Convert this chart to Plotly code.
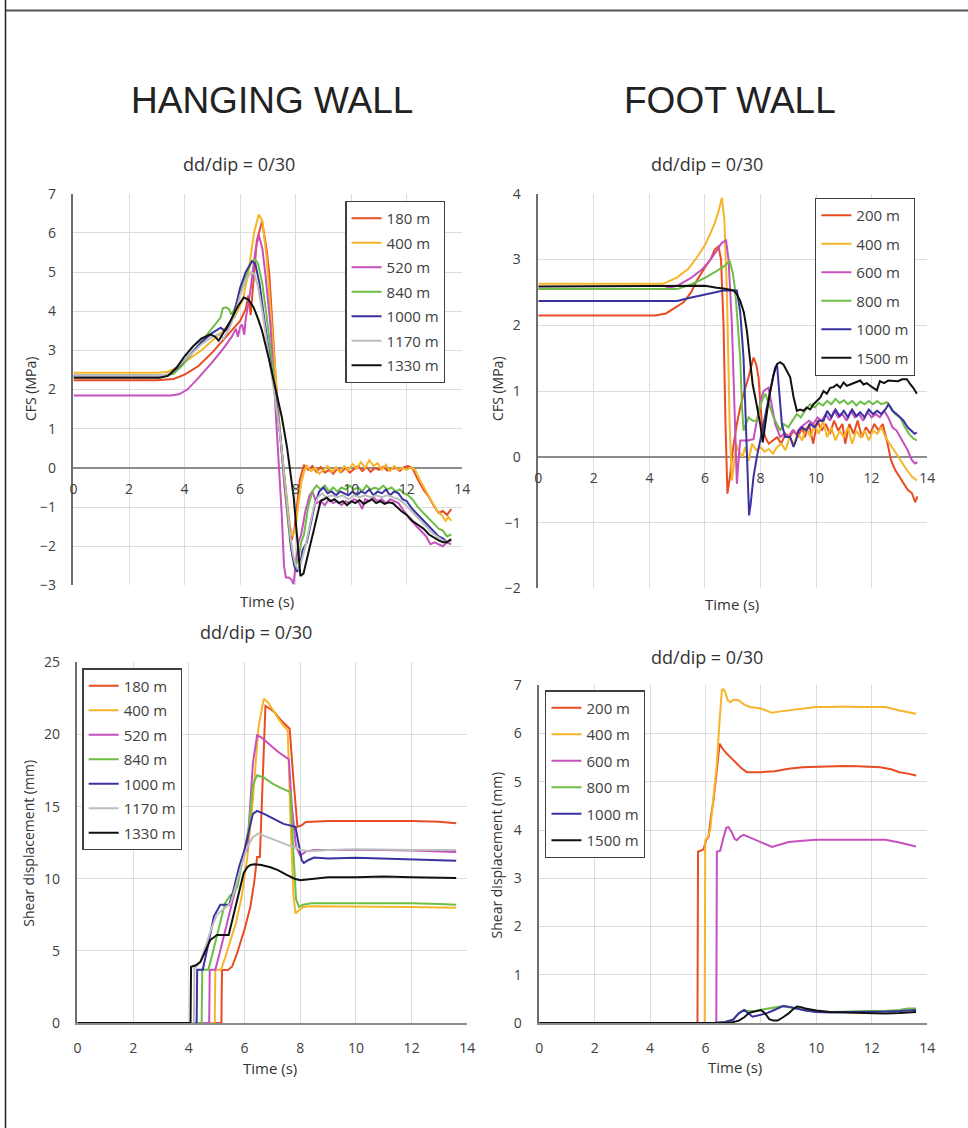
import plotly.graph_objects as go

W, H = 968, 1128

# ---------------- DATA ----------------
hw_depths = ["180 m", "400 m", "520 m", "840 m", "1000 m", "1170 m", "1330 m"]
fw_depths = ["200 m", "400 m", "600 m", "800 m", "1000 m", "1500 m"]
hw_colors = ["#E84C22", "#F6B52B", "#C650BE", "#6DBE45", "#3A32A0", "#BDBDBD", "#111111"]
fw_colors = ["#E84C22", "#F6B52B", "#C650BE", "#6DBE45", "#3A32A0", "#111111"]

x_ticks = [0, 2, 4, 6, 8, 10, 12, 14]

# Hanging wall CFS (MPa)
hw_cfs_t_180 = [0, 3.0, 3.6, 4.0, 4.5, 5.0, 5.5, 6.0, 6.2, 6.3, 6.38, 6.45, 6.6, 6.79, 6.95, 7.05, 7.15, 7.3, 7.45, 7.6, 7.75, 7.85, 7.95, 8.05, 8.15, 8.3, 8.45, 8.6, 8.75, 8.9, 9.05, 9.2, 9.35, 9.5, 9.65, 9.8, 9.95, 10.1, 10.25, 10.4, 10.55, 10.7, 10.85, 11.0, 11.15, 11.3, 11.45, 11.6, 11.75, 11.9, 12.05, 12.2, 12.4, 12.6, 12.8, 13.0, 13.15, 13.3, 13.45, 13.6]
hw_cfs_v_180 = [2.24, 2.24, 2.27, 2.38, 2.6, 2.95, 3.35, 3.75, 4.05, 4.4, 3.9, 4.5, 5.8, 6.3, 5.6, 4.94, 3.7, 2.1, 0.8, -0.5, -1.5, -1.85, -1.6, -1.0, -0.3, 0.08, -0.05, 0.05, -0.1, 0.02, -0.12, -0.05, -0.15, -0.02, -0.1, 0.0, -0.12, -0.03, 0.05, -0.08, 0.02, -0.1, 0.0, -0.05, 0.03, -0.07, -0.02, 0.0, -0.08, 0.02, 0.05, 0.0, -0.3, -0.55, -0.75, -1.0, -1.15, -1.1, -1.2, -1.05]

hw_cfs_t_400 = [0, 3.0, 3.4, 3.8, 4.2, 4.6, 5.0, 5.4, 5.8, 6.1, 6.3, 6.5, 6.67, 6.8, 6.95, 7.1, 7.25, 7.4, 7.55, 7.7, 7.8, 7.9, 8.0, 8.1, 8.2, 8.3, 8.4, 8.55, 8.7, 8.85, 9.0, 9.15, 9.3, 9.45, 9.6, 9.75, 9.9, 10.05, 10.2, 10.35, 10.5, 10.65, 10.8, 10.95, 11.1, 11.25, 11.4, 11.55, 11.7, 11.85, 12.0, 12.15, 12.3, 12.5, 12.7, 12.9, 13.1, 13.25, 13.4, 13.5, 13.6]
hw_cfs_v_400 = [2.43, 2.43, 2.45, 2.6, 2.8, 3.0, 3.25, 3.5, 3.85, 4.3, 5.0, 6.0, 6.47, 6.3, 5.4, 4.0, 2.5, 1.2, 0.1, -0.9, -1.5, -1.75, -1.5, -0.9, -0.4, -0.1, 0.05, -0.08, 0.0, -0.15, -0.05, 0.05, -0.1, 0.02, -0.12, 0.05, -0.05, 0.1, -0.02, 0.15, 0.0, 0.2, 0.05, 0.12, -0.05, 0.08, -0.08, 0.05, -0.05, 0.0, -0.05, 0.02, -0.05, -0.35, -0.6, -0.85, -1.1, -1.2, -1.35, -1.25, -1.35]

hw_cfs_t_520 = [0, 3.5, 3.8, 4.1, 4.5, 5.0, 5.4, 5.7, 5.85, 5.92, 6.0, 6.07, 6.15, 6.2, 6.37, 6.55, 6.67, 6.8, 6.91, 7.09, 7.2, 7.3, 7.4, 7.5, 7.58, 7.65, 7.75, 7.85, 7.92, 8.0, 8.1, 8.2, 8.35, 8.5, 8.6, 8.75, 8.9, 9.05, 9.2, 9.35, 9.5, 9.65, 9.8, 9.95, 10.1, 10.25, 10.4, 10.5, 10.65, 10.8, 10.95, 11.1, 11.25, 11.4, 11.55, 11.7, 11.9, 12.1, 12.3, 12.5, 12.7, 12.85, 13.0, 13.15, 13.3, 13.45, 13.6]
hw_cfs_v_520 = [1.85, 1.85, 1.88, 2.0, 2.3, 2.7, 3.05, 3.35, 3.55, 3.35, 3.6, 3.66, 3.4, 3.8, 4.52, 5.54, 5.95, 5.6, 4.94, 3.66, 2.4, 1.3, 0.2, -1.2, -2.5, -2.8, -2.8, -2.85, -2.97, -2.5, -1.9, -1.7, -1.1, -0.7, -0.6, -0.9, -0.85, -0.95, -0.8, -0.9, -0.85, -0.95, -0.85, -0.9, -0.8, -0.85, -1.05, -0.8, -0.85, -0.75, -0.85, -0.8, -0.9, -0.8, -0.85, -0.9, -1.1, -1.3, -1.45, -1.6, -1.75, -1.95, -1.9, -1.95, -2.0, -1.9, -1.95]

hw_cfs_t_840 = [0, 3.3, 3.6, 3.9, 4.3, 4.7, 5.0, 5.29, 5.38, 5.5, 5.6, 5.68, 5.8, 6.0, 6.2, 6.4, 6.55, 6.65, 6.8, 6.95, 7.1, 7.25, 7.4, 7.55, 7.7, 7.8, 7.9, 8.0, 8.1, 8.2, 8.3, 8.45, 8.6, 8.75, 8.9, 9.05, 9.2, 9.35, 9.5, 9.65, 9.8, 9.95, 10.1, 10.25, 10.4, 10.55, 10.7, 10.85, 11.0, 11.15, 11.3, 11.45, 11.6, 11.75, 11.9, 12.05, 12.2, 12.4, 12.6, 12.8, 13.0, 13.15, 13.3, 13.45, 13.6]
hw_cfs_v_840 = [2.35, 2.35, 2.4, 2.6, 2.95, 3.3, 3.55, 3.83, 4.08, 4.1, 4.05, 3.92, 4.05, 4.5, 4.9, 5.25, 5.32, 5.2, 4.7, 3.9, 3.0, 2.2, 1.2, 0.0, -1.2, -1.9, -2.3, -2.5, -2.3, -1.9, -1.7, -1.0, -0.6, -0.45, -0.55, -0.45, -0.6, -0.5, -0.6, -0.5, -0.55, -0.45, -0.55, -0.5, -0.6, -0.45, -0.55, -0.5, -0.55, -0.45, -0.55, -0.5, -0.6, -0.55, -0.65, -0.7, -0.8, -1.0, -1.15, -1.3, -1.45, -1.55, -1.6, -1.75, -1.7]

hw_cfs_t_1000 = [0, 3.2, 3.5, 3.8, 4.2, 4.6, 5.0, 5.3, 5.45, 5.6, 5.8, 6.0, 6.2, 6.43, 6.55, 6.7, 6.85, 7.0, 7.15, 7.3, 7.45, 7.6, 7.75, 7.85, 7.95, 8.05, 8.15, 8.25, 8.4, 8.55, 8.7, 8.85, 9.0, 9.15, 9.3, 9.45, 9.6, 9.75, 9.9, 10.05, 10.2, 10.35, 10.5, 10.65, 10.8, 10.95, 11.1, 11.25, 11.4, 11.55, 11.7, 11.85, 12.0, 12.2, 12.4, 12.6, 12.8, 13.0, 13.15, 13.3, 13.45, 13.6]
hw_cfs_v_1000 = [2.35, 2.35, 2.4, 2.6, 2.9, 3.2, 3.45, 3.58, 3.5, 3.6, 4.0, 4.6, 5.0, 5.28, 5.2, 4.7, 3.9, 3.1, 2.4, 1.7, 0.8, -0.3, -1.4, -2.1, -2.5, -2.65, -2.5, -2.1, -1.9, -1.4, -0.9, -0.6, -0.5, -0.65, -0.6, -0.7, -0.6, -0.65, -0.7, -0.6, -0.7, -0.6, -0.65, -0.55, -0.7, -0.6, -0.65, -0.55, -0.7, -0.6, -0.65, -0.8, -0.85, -1.05, -1.2, -1.35, -1.5, -1.65, -1.75, -1.8, -1.9, -1.85]

hw_cfs_t_1170 = [0, 3.2, 3.5, 3.8, 4.2, 4.6, 5.0, 5.25, 5.4, 5.6, 5.8, 6.0, 6.2, 6.4, 6.52, 6.65, 6.8, 6.95, 7.1, 7.25, 7.4, 7.55, 7.7, 7.8, 7.9, 8.0, 8.1, 8.2, 8.35, 8.5, 8.65, 8.8, 8.95, 9.1, 9.3, 9.5, 9.7, 9.9, 10.1, 10.3, 10.5, 10.7, 10.9, 11.1, 11.3, 11.5, 11.7, 11.9, 12.1, 12.3, 12.5, 12.7, 12.9, 13.1, 13.3, 13.45, 13.6]
hw_cfs_v_1170 = [2.35, 2.35, 2.42, 2.62, 2.9, 3.15, 3.35, 3.42, 3.3, 3.55, 3.9, 4.4, 4.8, 5.0, 4.95, 4.6, 4.0, 3.3, 2.6, 1.9, 1.1, 0.1, -1.0, -1.7, -2.2, -2.5, -2.6, -2.4, -2.0, -1.5, -1.0, -0.75, -0.65, -0.75, -0.7, -0.75, -0.7, -0.8, -0.7, -0.75, -0.7, -0.75, -0.7, -0.75, -0.7, -0.75, -0.8, -0.9, -1.05, -1.2, -1.35, -1.5, -1.65, -1.75, -1.85, -1.9, -1.85]

hw_cfs_t_1330 = [0, 3.1, 3.4, 3.7, 4.0, 4.3, 4.6, 4.93, 5.1, 5.23, 5.4, 5.65, 5.9, 6.13, 6.3, 6.49, 6.65, 6.79, 7.03, 7.33, 7.5, 7.69, 7.8, 7.93, 8.02, 8.1, 8.17, 8.28, 8.4, 8.53, 8.65, 8.78, 8.9, 9.02, 9.12, 9.25, 9.4, 9.55, 9.7, 9.85, 10.0, 10.15, 10.3, 10.45, 10.6, 10.75, 10.9, 11.05, 11.2, 11.35, 11.5, 11.65, 11.8, 12.0, 12.2, 12.4, 12.6, 12.8, 12.97, 13.15, 13.3, 13.44, 13.6]
hw_cfs_v_1330 = [2.3, 2.3, 2.35, 2.55, 2.85, 3.1, 3.3, 3.41, 3.35, 3.25, 3.45, 3.75, 4.1, 4.35, 4.3, 4.09, 3.8, 3.5, 2.8, 1.88, 1.3, 0.52, -0.1, -0.76, -1.5, -2.3, -2.76, -2.7, -2.3, -1.95, -1.6, -1.2, -0.84, -0.8, -0.76, -0.85, -0.8, -0.9, -0.85, -0.95, -0.85, -0.9, -0.82, -0.92, -0.85, -0.8, -0.9, -0.85, -0.92, -0.88, -0.9, -1.0, -1.1, -1.2, -1.35, -1.45, -1.55, -1.7, -1.78, -1.85, -1.9, -1.9, -1.82]

# Foot wall CFS (MPa)
fw_cfs_t_200 = [0, 4.2, 4.6, 5.0, 5.23, 5.5, 5.71, 6.0, 6.2, 6.35, 6.49, 6.58, 6.67, 6.74, 6.81, 6.9, 7.0, 7.15, 7.27, 7.42, 7.57, 7.75, 7.85, 7.93, 8.05, 8.17, 8.3, 8.45, 8.6, 8.75, 8.9, 9.05, 9.2, 9.35, 9.5, 9.6, 9.75, 9.9, 10.05, 10.2, 10.35, 10.5, 10.65, 10.8, 10.95, 11.05, 11.2, 11.35, 11.5, 11.65, 11.8, 11.95, 12.1, 12.25, 12.4, 12.55, 12.7, 12.85, 13.0, 13.15, 13.3, 13.45, 13.57, 13.65]
fw_cfs_v_200 = [2.15, 2.15, 2.18, 2.28, 2.35, 2.5, 2.68, 2.88, 3.0, 3.15, 3.2, 3.0, 2.0, 0.5, -0.56, -0.3, 0.1, 0.5, 0.75, 1.0, 1.21, 1.51, 1.4, 1.21, 0.5, 0.3, 0.2, 0.25, 0.3, 0.2, 0.35, 0.3, 0.4, 0.3, 0.45, 0.3, 0.5, 0.2, 0.55, 0.4, 0.5, 0.35, 0.55, 0.4, 0.5, 0.2, 0.5, 0.35, 0.55, 0.3, 0.45, 0.35, 0.5, 0.4, 0.5, 0.25, -0.05, -0.2, -0.3, -0.4, -0.5, -0.55, -0.69, -0.6]

fw_cfs_t_400 = [0, 4.5, 5.0, 5.4, 5.71, 6.0, 6.19, 6.35, 6.5, 6.61, 6.7, 6.79, 6.89, 6.97, 7.05, 7.12, 7.2, 7.35, 7.45, 7.57, 7.7, 7.85, 8.0, 8.15, 8.3, 8.45, 8.6, 8.75, 8.9, 9.05, 9.2, 9.35, 9.5, 9.65, 9.8, 9.95, 10.1, 10.25, 10.4, 10.55, 10.7, 10.85, 11.0, 11.15, 11.3, 11.45, 11.6, 11.75, 11.9, 12.05, 12.2, 12.35, 12.5, 12.65, 12.79, 12.95, 13.1, 13.27, 13.45, 13.63]
fw_cfs_v_400 = [2.63, 2.63, 2.73, 2.86, 3.03, 3.22, 3.39, 3.55, 3.75, 3.94, 3.6, 2.53, 0.5, -0.36, -0.1, 0.2, 0.1, 0.0, 0.15, -0.06, 0.2, 0.1, 0.15, 0.08, 0.12, 0.05, 0.15, 0.2, 0.1, 0.3, 0.2, 0.35, 0.25, 0.45, 0.3, 0.5, 0.35, 0.55, 0.3, 0.45, 0.25, 0.4, 0.3, 0.45, 0.2, 0.4, 0.3, 0.4, 0.25, 0.4, 0.35, 0.45, 0.3, 0.2, 0.1, 0.0, -0.1, -0.2, -0.3, -0.36]

fw_cfs_t_600 = [0, 4.5, 5.0, 5.5, 5.9, 6.2, 6.45, 6.6, 6.76, 6.85, 6.97, 7.05, 7.15, 7.22, 7.27, 7.4, 7.55, 7.75, 7.9, 8.0, 8.11, 8.29, 8.4, 8.53, 8.71, 8.85, 9.0, 9.15, 9.3, 9.45, 9.6, 9.75, 9.9, 10.05, 10.2, 10.35, 10.5, 10.65, 10.8, 10.95, 11.1, 11.25, 11.4, 11.55, 11.7, 11.85, 12.0, 12.15, 12.3, 12.45, 12.6, 12.75, 12.9, 13.03, 13.15, 13.3, 13.45, 13.57, 13.65]
fw_cfs_v_600 = [2.55, 2.55, 2.6, 2.72, 2.85, 3.0, 3.15, 3.25, 3.29, 3.0, 2.02, 0.8, -0.41, 0.0, 0.25, 0.25, 0.25, 0.27, 0.6, 0.85, 1.0, 1.05, 0.8, 0.5, 0.3, 0.35, 0.3, 0.4, 0.35, 0.45, 0.5, 0.55, 0.5, 0.6, 0.55, 0.65, 0.55, 0.7, 0.6, 0.65, 0.55, 0.7, 0.6, 0.65, 0.55, 0.68, 0.6, 0.65, 0.6, 0.7, 0.6, 0.45, 0.4, 0.3, 0.2, 0.1, -0.05, -0.1, -0.08]

fw_cfs_t_800 = [0, 5.0, 5.5, 6.0, 6.4, 6.7, 6.89, 7.0, 7.09, 7.18, 7.27, 7.33, 7.39, 7.48, 7.57, 7.72, 7.87, 8.0, 8.17, 8.35, 8.47, 8.59, 8.71, 8.83, 9.0, 9.15, 9.31, 9.45, 9.6, 9.79, 9.95, 10.1, 10.25, 10.4, 10.55, 10.7, 10.85, 11.0, 11.15, 11.3, 11.45, 11.6, 11.75, 11.9, 12.05, 12.2, 12.35, 12.55, 12.7, 12.85, 13.03, 13.2, 13.35, 13.5, 13.63]
fw_cfs_v_800 = [2.55, 2.55, 2.62, 2.72, 2.82, 2.9, 2.98, 2.8, 2.53, 2.0, 1.51, 0.8, 0.4, 0.5, 0.6, 0.55, 0.55, 0.8, 0.96, 0.75, 0.6, 0.5, 0.4, 0.5, 0.45, 0.55, 0.65, 0.6, 0.7, 0.8, 0.75, 0.82, 0.78, 0.85, 0.8, 0.88, 0.82, 0.86, 0.8, 0.85, 0.78, 0.84, 0.8, 0.85, 0.8, 0.85, 0.8, 0.83, 0.75, 0.65, 0.6, 0.45, 0.35, 0.28, 0.25]

fw_cfs_t_1000 = [0, 5.0, 5.47, 6.0, 6.67, 7.15, 7.27, 7.39, 7.45, 7.51, 7.55, 7.59, 7.65, 7.75, 7.87, 8.05, 8.23, 8.4, 8.53, 8.6, 8.67, 8.77, 8.89, 9.07, 9.19, 9.28, 9.37, 9.5, 9.65, 9.79, 9.95, 10.1, 10.27, 10.4, 10.55, 10.7, 10.85, 11.0, 11.15, 11.3, 11.45, 11.59, 11.75, 11.9, 12.05, 12.2, 12.35, 12.5, 12.61, 12.75, 12.9, 13.03, 13.15, 13.3, 13.45, 13.55, 13.63]
fw_cfs_v_1000 = [2.37, 2.37, 2.42, 2.47, 2.53, 2.53, 2.2, 1.51, 0.7, -0.01, -0.6, -0.89, -0.7, -0.3, 0.0, 0.4, 0.75, 1.1, 1.36, 1.38, 1.0, 0.5, 0.3, 0.3, 0.15, 0.25, 0.4, 0.45, 0.4, 0.5, 0.45, 0.55, 0.55, 0.7, 0.6, 0.72, 0.62, 0.7, 0.6, 0.72, 0.62, 0.68, 0.6, 0.72, 0.65, 0.7, 0.65, 0.72, 0.8, 0.7, 0.65, 0.6, 0.55, 0.45, 0.38, 0.35, 0.37]

fw_cfs_t_1500 = [0, 5.5, 6.0, 6.43, 6.67, 7.03, 7.15, 7.27, 7.4, 7.51, 7.63, 7.72, 7.81, 7.9, 7.99, 8.08, 8.13, 8.24, 8.35, 8.47, 8.59, 8.71, 8.83, 8.95, 9.07, 9.19, 9.31, 9.43, 9.55, 9.67, 9.79, 9.91, 10.03, 10.15, 10.27, 10.39, 10.51, 10.63, 10.75, 10.87, 10.99, 11.11, 11.23, 11.35, 11.47, 11.59, 11.71, 11.83, 11.95, 12.07, 12.19, 12.3, 12.45, 12.6, 12.79, 12.95, 13.1, 13.27, 13.4, 13.5, 13.63]
fw_cfs_v_1500 = [2.59, 2.6, 2.6, 2.57, 2.56, 2.53, 2.47, 2.37, 2.2, 1.92, 1.41, 1.1, 0.91, 0.7, 0.5, 0.22, 0.4, 0.7, 1.0, 1.25, 1.41, 1.44, 1.4, 1.31, 1.21, 0.91, 0.7, 0.72, 0.7, 0.75, 0.72, 0.8, 0.85, 0.9, 1.0, 0.96, 1.05, 1.06, 1.1, 1.05, 1.13, 1.08, 1.1, 1.12, 1.15, 1.16, 1.1, 1.12, 1.08, 1.05, 1.01, 1.15, 1.12, 1.16, 1.16, 1.15, 1.18, 1.18, 1.1, 1.05, 0.96]

# Hanging wall shear displacement (mm)
hw_sd_t_180 = [0, 5.17, 5.19, 5.4, 5.55, 5.73, 6.0, 6.21, 6.35, 6.45, 6.55, 6.65, 6.75, 6.9, 7.1, 7.3, 7.5, 7.62, 7.75, 7.9, 8.05, 8.2, 9.0, 10.0, 11.0, 12.0, 13.0, 13.6]
hw_sd_v_180 = [0, 0, 3.67, 3.67, 3.9, 4.82, 6.5, 8.06, 9.8, 11.5, 11.5, 17.0, 21.98, 21.8, 21.5, 21.0, 20.6, 20.4, 17.0, 13.6, 13.7, 13.94, 14.0, 14.0, 14.05, 14.0, 13.95, 13.85]

hw_sd_t_400 = [0, 4.93, 4.95, 5.15, 5.3, 5.5, 5.7, 5.9, 6.1, 6.3, 6.5, 6.69, 6.85, 7.05, 7.25, 7.45, 7.55, 7.65, 7.75, 7.83, 7.95, 8.1, 8.4, 9.0, 10.0, 11.0, 12.0, 13.0, 13.6]
hw_sd_v_400 = [0, 0, 3.7, 3.7, 4.5, 5.8, 7.0, 8.8, 11.5, 15.5, 20.5, 22.48, 22.2, 21.6, 21.0, 20.5, 20.3, 14.0, 9.0, 7.6, 7.8, 8.05, 8.1, 8.1, 8.05, 8.1, 8.05, 8.0, 7.99]

hw_sd_t_520 = [0, 4.73, 4.75, 4.95, 5.1, 5.3, 5.5, 5.7, 5.9, 6.0, 6.1, 6.2, 6.3, 6.45, 6.6, 6.9, 7.2, 7.5, 7.59, 7.7, 7.85, 8.0, 8.2, 8.5, 9.0, 10.0, 11.0, 12.0, 13.0, 13.6]
hw_sd_v_520 = [0, 0, 3.7, 3.7, 4.8, 6.3, 8.0, 9.5, 11.2, 11.8, 12.0, 15.0, 18.0, 19.94, 19.8, 19.3, 18.8, 18.4, 18.3, 15.0, 12.2, 11.6, 11.9, 12.0, 12.0, 12.05, 12.0, 11.95, 11.9, 11.86]

hw_sd_t_840 = [0, 4.46, 4.48, 4.7, 4.9, 5.1, 5.3, 5.49, 5.6, 5.75, 5.9, 6.05, 6.15, 6.3, 6.45, 6.7, 7.0, 7.3, 7.65, 7.75, 7.85, 7.95, 8.1, 8.4, 9.0, 10.0, 11.0, 12.0, 13.0, 13.6]
hw_sd_v_840 = [0, 0, 3.7, 3.7, 5.2, 6.8, 8.3, 8.86, 8.9, 9.5, 11.0, 12.5, 13.5, 16.5, 17.17, 17.0, 16.6, 16.3, 16.0, 12.0, 8.6, 8.06, 8.2, 8.3, 8.3, 8.35, 8.3, 8.3, 8.25, 8.2]

hw_sd_t_1000 = [0, 4.28, 4.3, 4.5, 4.7, 4.9, 5.13, 5.45, 5.6, 5.8, 6.0, 6.09, 6.2, 6.3, 6.45, 6.7, 7.0, 7.4, 7.83, 7.95, 8.05, 8.13, 8.3, 8.5, 9.0, 10.0, 11.0, 12.0, 13.0, 13.6]
hw_sd_v_1000 = [0, 0, 3.7, 3.7, 5.5, 7.4, 8.2, 8.2, 9.2, 10.8, 12.0, 12.7, 13.6, 14.5, 14.7, 14.5, 14.2, 13.8, 13.6, 12.2, 11.3, 11.1, 11.3, 11.47, 11.4, 11.45, 11.4, 11.35, 11.3, 11.25]

hw_sd_t_1170 = [0, 4.18, 4.2, 4.4, 4.6, 4.8, 5.0, 5.3, 5.5, 5.7, 5.9, 6.1, 6.3, 6.5, 6.8, 7.2, 7.6, 7.8, 8.0, 8.3, 9.0, 10.0, 11.0, 12.0, 13.0, 13.6]
hw_sd_v_1170 = [0, 0, 3.8, 4.2, 5.3, 6.5, 7.5, 8.0, 8.3, 9.6, 11.0, 12.2, 12.9, 13.13, 12.9, 12.6, 12.3, 12.2, 12.0, 11.9, 12.0, 12.05, 12.0, 12.0, 12.0, 12.0]

hw_sd_t_1330 = [0, 4.06, 4.08, 4.25, 4.42, 4.6, 4.77, 5.01, 5.43, 5.58, 5.73, 5.85, 5.97, 6.1, 6.21, 6.35, 6.6, 6.93, 7.2, 7.53, 7.8, 8.0, 8.2, 8.48, 9.0, 10.0, 11.0, 12.0, 13.0, 13.6]
hw_sd_v_1330 = [0, 0, 3.9, 4.0, 4.25, 5.0, 5.75, 6.1, 6.1, 7.3, 8.5, 9.5, 10.4, 10.8, 10.95, 11.0, 10.95, 10.8, 10.6, 10.25, 10.0, 9.9, 9.95, 10.0, 10.1, 10.1, 10.15, 10.1, 10.05, 10.06]

# Foot wall shear displacement (mm)
fw_sd_t_200 = [0, 5.71, 5.73, 5.93, 6.03, 6.11, 6.2, 6.29, 6.4, 6.51, 6.6, 6.77, 6.95, 7.13, 7.3, 7.49, 7.75, 8.0, 8.5, 9.0, 9.5, 10.0, 10.5, 11.0, 11.5, 12.0, 12.3, 12.7, 13.0, 13.3, 13.6]
fw_sd_v_200 = [0, 0, 3.55, 3.6, 3.8, 3.86, 4.3, 4.62, 5.2, 5.79, 5.7, 5.58, 5.48, 5.38, 5.28, 5.2, 5.2, 5.2, 5.22, 5.27, 5.3, 5.31, 5.32, 5.33, 5.32, 5.31, 5.3, 5.26, 5.2, 5.17, 5.13]

fw_sd_t_400 = [0, 5.97, 5.99, 6.08, 6.17, 6.3, 6.41, 6.5, 6.59, 6.65, 6.72, 6.8, 6.9, 7.0, 7.19, 7.4, 7.61, 8.0, 8.2, 8.4, 8.7, 9.0, 9.5, 10.0, 10.5, 11.0, 11.5, 12.0, 12.5, 13.0, 13.3, 13.6]
fw_sd_v_400 = [0, 0, 3.79, 3.85, 4.0, 4.8, 5.38, 6.2, 6.9, 6.92, 6.85, 6.69, 6.65, 6.7, 6.69, 6.6, 6.55, 6.52, 6.48, 6.43, 6.46, 6.48, 6.52, 6.55, 6.55, 6.56, 6.55, 6.55, 6.55, 6.48, 6.45, 6.41]

fw_sd_t_600 = [0, 6.39, 6.41, 6.53, 6.65, 6.75, 6.83, 6.95, 7.05, 7.13, 7.25, 7.37, 7.55, 7.8, 8.0, 8.2, 8.4, 8.7, 9.0, 9.5, 10.0, 11.0, 12.0, 12.5, 13.0, 13.6]
fw_sd_v_600 = [0, 0, 3.55, 3.57, 3.85, 4.05, 4.06, 3.95, 3.82, 3.79, 3.86, 3.9, 3.86, 3.8, 3.75, 3.7, 3.65, 3.7, 3.75, 3.78, 3.8, 3.8, 3.8, 3.8, 3.74, 3.66]

fw_sd_t_800 = [0, 6.3, 6.7, 7.0, 7.2, 7.37, 7.55, 7.8, 8.05, 8.3, 8.55, 8.8, 9.05, 9.3, 9.6, 10.0, 10.5, 11.0, 11.5, 12.0, 12.5, 13.0, 13.3, 13.6]
fw_sd_v_800 = [0, 0, 0.02, 0.08, 0.2, 0.27, 0.25, 0.25, 0.28, 0.3, 0.32, 0.35, 0.32, 0.3, 0.27, 0.23, 0.23, 0.24, 0.24, 0.25, 0.25, 0.27, 0.3, 0.3]

fw_sd_t_1000 = [0, 6.3, 6.7, 7.0, 7.2, 7.4, 7.55, 7.7, 7.85, 8.0, 8.2, 8.4, 8.6, 8.8, 9.0, 9.3, 9.6, 10.0, 10.5, 11.0, 11.5, 12.0, 12.5, 13.0, 13.3, 13.6]
fw_sd_v_1000 = [0, 0, 0.02, 0.07, 0.2, 0.27, 0.2, 0.13, 0.15, 0.17, 0.2, 0.25, 0.3, 0.35, 0.34, 0.3, 0.26, 0.23, 0.22, 0.23, 0.23, 0.24, 0.24, 0.25, 0.26, 0.27]

fw_sd_t_1500 = [0, 6.8, 7.0, 7.2, 7.4, 7.55, 7.7, 7.85, 8.0, 8.15, 8.3, 8.45, 8.6, 8.8, 9.0, 9.15, 9.3, 9.45, 9.6, 10.0, 10.5, 11.0, 11.5, 12.0, 12.5, 13.0, 13.6]
fw_sd_v_1500 = [0, 0, 0.02, 0.05, 0.12, 0.2, 0.23, 0.25, 0.27, 0.2, 0.08, 0.05, 0.05, 0.12, 0.2, 0.28, 0.34, 0.33, 0.3, 0.26, 0.23, 0.22, 0.21, 0.21, 0.2, 0.21, 0.23]

hw_cfs = [(hw_cfs_t_180, hw_cfs_v_180), (hw_cfs_t_400, hw_cfs_v_400), (hw_cfs_t_520, hw_cfs_v_520),
          (hw_cfs_t_840, hw_cfs_v_840), (hw_cfs_t_1000, hw_cfs_v_1000), (hw_cfs_t_1170, hw_cfs_v_1170),
          (hw_cfs_t_1330, hw_cfs_v_1330)]
fw_cfs = [(fw_cfs_t_200, fw_cfs_v_200), (fw_cfs_t_400, fw_cfs_v_400), (fw_cfs_t_600, fw_cfs_v_600),
          (fw_cfs_t_800, fw_cfs_v_800), (fw_cfs_t_1000, fw_cfs_v_1000), (fw_cfs_t_1500, fw_cfs_v_1500)]
hw_sd = [(hw_sd_t_180, hw_sd_v_180), (hw_sd_t_400, hw_sd_v_400), (hw_sd_t_520, hw_sd_v_520),
         (hw_sd_t_840, hw_sd_v_840), (hw_sd_t_1000, hw_sd_v_1000), (hw_sd_t_1170, hw_sd_v_1170),
         (hw_sd_t_1330, hw_sd_v_1330)]
fw_sd = [(fw_sd_t_200, fw_sd_v_200), (fw_sd_t_400, fw_sd_v_400), (fw_sd_t_600, fw_sd_v_600),
         (fw_sd_t_800, fw_sd_v_800), (fw_sd_t_1000, fw_sd_v_1000), (fw_sd_t_1500, fw_sd_v_1500)]

# ---------------- LAYOUT HELPERS ----------------
# target pixel positions -> figure fractions (small correction for the capture offset/scale)
AX, BX = 0.988, 3.5
AY, BY = 0.984, 9.1

def px(x):
    return ((x - BX) / AX) / W

def py(y):
    return 1 - ((y - BY) / AY) / H

FONT = "Open Sans"
TICK_FONT = dict(family=FONT, size=14, color="#404040")
GRID = "#dcdcdc"

fig = go.Figure()

panels = [
    ("x", "y", "legend", hw_cfs, hw_depths, hw_colors, (73, 462, 193, 585), [-3, 7], 1, 467, 2),
    ("x2", "y2", "legend2", fw_cfs, fw_depths, fw_colors, (538, 927, 193, 588), [-2, 4], 1, 456.3, 6),
    ("x3", "y3", "legend3", hw_sd, hw_depths, hw_colors, (77, 467, 662, 1023), [0, 25], 5, 1023, 2),
    ("x4", "y4", "legend4", fw_sd, fw_depths, fw_colors, (539, 927, 685, 1023), [0, 7], 1, 1023, 4),
]

legend_pos = {
    "legend": (345, 200),
    "legend2": (815, 197),
    "legend3": (82, 668),
    "legend4": (545, 690),
}

for i, (xa, ya, lg, data, labels, colors, box, yr, dt, zy, gap) in enumerate(panels):
    for j, ((tt, vv), lab, col) in enumerate(zip(data, labels, colors)):
        fig.add_trace(go.Scatter(
            x=tt, y=vv, mode="lines", name=lab,
            line=dict(color=col, width=2),
            xaxis=xa, yaxis=ya, legend=lg,
            legendgroup=f"{lg}_{j}",
        ))
    x0, x1, yt, yb = box
    xkey = "xaxis" if xa == "x" else "xaxis" + xa[1:]
    ykey = "yaxis" if ya == "y" else "yaxis" + ya[1:]
    bottom_axis = abs(zy - yb) < 1
    fig.layout[xkey] = dict(
        domain=[px(x0), px(x1)], range=[0, 14], tickvals=x_ticks,
        showgrid=True, gridcolor=GRID, gridwidth=1,
        showline=bottom_axis, linecolor="#8c8c8c", linewidth=1.5,
        zeroline=False, ticks="", tickfont=TICK_FONT,
        anchor=ya if bottom_axis else "free",
        position=py(zy) if not bottom_axis else 0,
        ticklabelstandoff=11,
    )
    fig.layout[ykey] = dict(
        domain=[py(yb), py(yt)], range=yr, dtick=dt,
        showgrid=True, gridcolor=GRID, gridwidth=1,
        showline=True, linecolor="#6e6e6e", linewidth=1.5,
        zeroline=not bottom_axis, zerolinecolor="#8c8c8c", zerolinewidth=1.5,
        ticks="", tickfont=TICK_FONT, anchor=xa,
        ticklabelstandoff=13,
    )
    lx, ly = legend_pos[lg]
    fig.layout[lg] = dict(
        x=px(lx), y=py(ly), xanchor="left", yanchor="top",
        bgcolor="white", bordercolor="#404040", borderwidth=1.2,
        font=dict(family=FONT, size=15, color="#404040"),
        itemwidth=30, tracegroupgap=gap, traceorder="grouped",
        entrywidth=82, entrywidthmode="pixels",
    )

SUB = dict(family=FONT, size=18, color="#333")
TIME = dict(family=FONT, size=15, color="#333")
YT = dict(family=FONT, size=14, color="#333")
annotations = [
    dict(text="HANGING WALL", x=px(272), y=py(100), font=dict(family="Liberation Sans", size=37, color="#222")),
    dict(text="FOOT WALL", x=px(730), y=py(100), font=dict(family="Liberation Sans", size=37, color="#222")),
    dict(text="dd/dip = 0/30", x=px(239), y=py(163), font=SUB),
    dict(text="dd/dip = 0/30", x=px(707), y=py(163), font=SUB),
    dict(text="dd/dip = 0/30", x=px(256), y=py(632), font=SUB),
    dict(text="dd/dip = 0/30", x=px(707), y=py(657), font=SUB),
    dict(text="Time (s)", x=px(267), y=py(601), font=TIME),
    dict(text="Time (s)", x=px(732), y=py(604), font=TIME),
    dict(text="Time (s)", x=px(270), y=py(1068), font=TIME),
    dict(text="Time (s)", x=px(735), y=py(1067), font=TIME),
    dict(text="CFS (MPa)", x=px(30), y=py(388), textangle=-90, font=YT),
    dict(text="CFS (MPa)", x=px(497), y=py(388), textangle=-90, font=YT),
    dict(text="Shear displacement (mm)", x=px(28), y=py(843), textangle=-90, font=YT),
    dict(text="Shear displacement (mm)", x=px(496), y=py(855), textangle=-90, font=YT),
]
for a in annotations:
    a.update(xref="paper", yref="paper", showarrow=False, xanchor="center", yanchor="middle")

shapes = [
    dict(type="line", xref="paper", yref="paper", x0=px(5), x1=1.01, y0=0.9995, y1=0.9995, line=dict(color="#555", width=2)),
    dict(type="line", xref="paper", yref="paper", x0=px(5), x1=px(5), y0=1.01, y1=-0.01, line=dict(color="#222", width=1.5)),
]

fig.update_layout(
    width=W, height=H, margin=dict(l=0, r=0, t=0, b=0),
    paper_bgcolor="white", plot_bgcolor="white",
    annotations=annotations, shapes=shapes,
    showlegend=True,
)

post = (
    "var s='margin:0;padding:0;overflow:hidden;width:968px;height:1128px;';"
    "document.documentElement.style.cssText=s;"
    "document.body.style.cssText=s;"
    "var g=document.getElementById('{plot_id}');"
    "if(g&&g.parentElement){g.parentElement.style.cssText='margin:0;padding:0;width:968px;height:1128px;overflow:hidden;line-height:0;font-size:0;';}"
)

fig.write_html(
    "out.html",
    config={"displayModeBar": False},
    post_script=post,
)
